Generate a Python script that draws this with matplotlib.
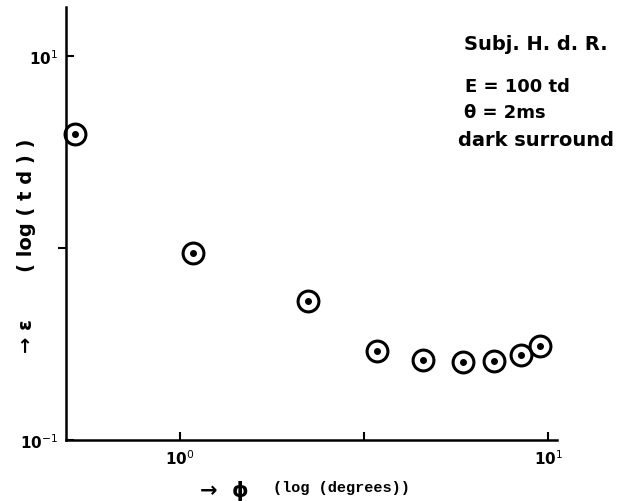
import matplotlib
matplotlib.use('Agg')
import matplotlib.pyplot as plt

# data (log-log)
phi = [0.52, 1.085, 2.23, 3.43, 4.57, 5.87, 7.13, 8.45, 9.51]  # degrees
eps = [3.93, 0.94, 0.53, 0.29, 0.261, 0.255, 0.258, 0.277, 0.309]  # td

fig = plt.figure(figsize=(6.28, 5.02), dpi=100)
ax = fig.add_axes([0.105, 0.1215, 0.782, 0.8625])
ax.set_xscale('log')
ax.set_yscale('log')
ax.set_xlim(0.49, 10.57)
ax.set_ylim(0.1, 18)

# circles with a dot in the middle
ax.plot(phi, eps, 'o', ms=15, mfc='none', mec='black', mew=2.2, clip_on=False)
ax.plot(phi, eps, 'o', ms=4, color='black', clip_on=False)

for s in ['top', 'right']:
    ax.spines[s].set_visible(False)
ax.spines['left'].set_linewidth(1.8)
ax.spines['bottom'].set_linewidth(1.8)

ax.minorticks_off()
ax.set_xticks([1, 10 ** 0.5, 10])
ax.set_xticklabels(['10$^0$', '', '10$^1$'], fontsize=11, fontweight='bold')
ax.tick_params(axis='x', direction='in', length=6, width=1.5, pad=6)
ax.set_yticks([0.1, 1, 10])
ax.set_yticklabels(['10$^{-1}$', '', '10$^1$'], fontsize=11, fontweight='bold')
ax.tick_params(axis='y', direction='in', length=6, width=1.5, pad=6)
# middle y tick points outward in the original
ax.yaxis.get_major_ticks()[1].tick1line.set_marker(0)

# x label: arrow + phi, then the typed part
fig.text(0.318, 0.022, '→  ϕ', fontsize=15, fontweight='bold', va='center')
ax.set_xlabel('(log (degrees))', family='Liberation Mono',
              fontsize=11, fontweight='bold')
ax.xaxis.set_label_coords(0.562, -0.093)
ax.set_ylabel('→ ε       ( log ( t d ) )', fontsize=14, fontweight='bold')
ax.yaxis.set_label_coords(-0.06, 0.45)

ax.text(0.81, 0.915, 'Subj. H. d. R.', transform=ax.transAxes, fontsize=14,
        fontweight='bold', va='center')
ax.text(0.813, 0.818, 'E = 100 td', transform=ax.transAxes, fontsize=13,
        fontweight='bold', va='center')
ax.text(0.81, 0.757, 'θ = 2ms', transform=ax.transAxes, fontsize=13,
        fontweight='bold', va='center')
ax.text(0.798, 0.695, 'dark surround', transform=ax.transAxes, fontsize=14,
        fontweight='bold', va='center')

fig.savefig('out.png', dpi=100)
